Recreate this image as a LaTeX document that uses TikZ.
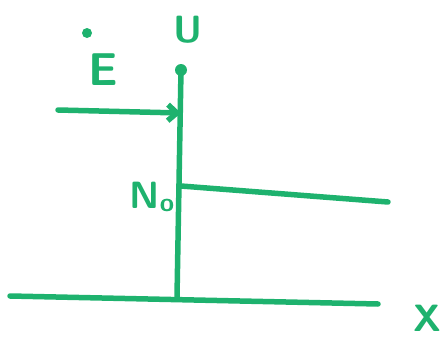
\documentclass[tikz,border=0pt]{standalone}
\usetikzlibrary{arrows.meta}
\definecolor{ink}{RGB}{30,178,110}
\begin{document}
\begin{tikzpicture}[x=1pt,y=-1pt,
  pen/.style={draw=ink,line width=5.5pt,line cap=round},
  lbl/.style={text=ink,font=\fontsize{38}{38}\selectfont\sffamily\bfseries,inner sep=0pt}]
\useasboundingbox (0,0) rectangle (448,338);
\coordinate (utop) at (181,70);
\coordinate (ubot) at (177,297);
\coordinate (arrS) at (58,110);
\coordinate (arrE) at (181,113);
\coordinate (nS) at (181,186);
\coordinate (nE) at (388,202);
\coordinate (xS) at (10,296);
\coordinate (xE) at (378,304);
\coordinate (edot) at (87,33);
\draw[pen] (utop) -- (ubot);
\fill[ink] (utop) circle (6pt);
\draw[pen,-{Straight Barb[length=9pt,width=16pt]}] (arrS) -- (arrE);
\draw[pen] (nS) -- (nE);
\draw[pen] (xS) -- (xE);
\fill[ink] (edot) circle (5pt);
\node[lbl] (Ulbl) at (188,30) {U};
\node[lbl,font=\fontsize{46}{46}\selectfont\sffamily\bfseries] (Elbl) at (103,70) {E};
\node[lbl] (Nlbl) at (152,197) {N\raisebox{-3pt}{\fontsize{26}{26}\selectfont o}};
\node[lbl] (Xlbl) at (427,318) {X};
\end{tikzpicture}
\end{document}
